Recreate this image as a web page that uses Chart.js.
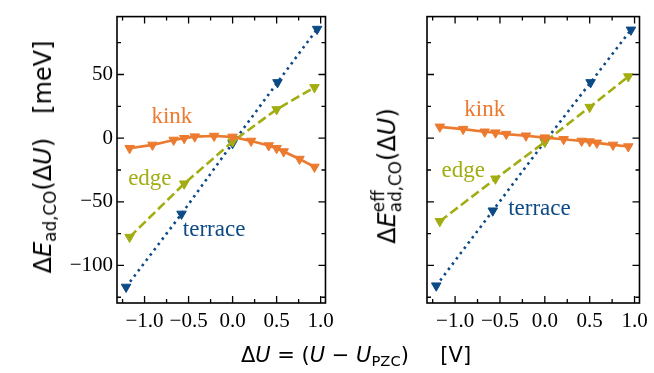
<!DOCTYPE html>
<html><head><meta charset="utf-8">
<script src="https://cdn.jsdelivr.net/npm/chart.js@4/dist/chart.umd.min.js"></script>
<style>
body{margin:0;background:#fff;}
#wrap{position:relative;width:654px;height:373px;overflow:hidden;background:#fff;}
canvas{position:absolute;top:0;}
#c1{left:0;} #c2{left:310px;}
.lab{position:absolute;font-family:"DejaVu Sans";font-size:21px;color:#000;white-space:nowrap;line-height:1;}
.ylab{transform:translate(-50%,-50%) rotate(-90deg);font-size:24px;}
.xlab{transform:translate(-50%,-50%);}
.lab sub{font-size:0.7em;vertical-align:-0.3em;line-height:0;}
.ss{display:inline-block;font-size:0.7em;line-height:1.0;vertical-align:-0.35em;}
.ss span{display:block;}
</style></head>
<body><div id="wrap">
<canvas id="c1" width="340" height="373"></canvas>
<canvas id="c2" width="344" height="373"></canvas>
<div class="lab ylab" style="left:43px;top:157px">Δ<i>E</i><sub>ad,CO</sub>(Δ<i>U</i>)&ensp;&ensp;[meV]</div>
<div class="lab ylab" style="left:387px;top:176px">Δ<i>E</i><span class="ss"><span>eff</span><span>ad,CO</span></span>(Δ<i>U</i>)</div>
<div class="lab xlab" style="left:356px;top:355px">Δ<i>U</i> = (<i>U</i> − <i>U</i><sub>PZC</sub>)&emsp;&ensp;[V]</div>
</div>
<script>
// ---- data ----
const kinkX    = [-1.17, -0.91, -0.67, -0.55, -0.43, -0.21, 0, 0.21, 0.41, 0.50, 0.58, 0.76, 0.93];
const kinkAd   = [-7.9, -5.3, -1.4, -0.1, 1.2, 1.7, 1.0, -2.2, -5.8, -7.9, -10.5, -16.4, -22.6];
const kinkEff  = [8.9, 7.1, 5.0, 4.3, 3.2, 1.9, 0.4, -0.9, -2.2, -2.7, -3.7, -5.3, -6.6];
const edgeX    = [-1.17, -0.55, 0, 0.50, 0.93];
const edgeAd   = [-77.7, -35.8, -2.7, 22.6, 39.9];
const edgeEff  = [-65.3, -31.9, -3.0, 24.4, 48.4];
const terraceX   = [-1.21, -0.58, 0, 0.51, 0.96];
const terraceAd  = [-116.9, -59.5, -4.0, 43.8, 85.7];
const terraceEff = [-115.9, -57.0, -2.7, 43.8, 85.1];
const xMajorTicks = [-1.0, -0.5, 0.0, 0.5, 1.0];
const xMinorTicks = [-1.25, -0.75, -0.25, 0.25, 0.75];
const yMajorTicks = [-100, -50, 0, 50];
const yMinorTicks = [-125, -75, -25, 25, 75];

const C_KINK = '#EC7A2F', C_EDGE = '#A2AD12', C_TER = '#0C4A86';

function pts(xs, ys){ return xs.map((x,i)=>({x:x, y:ys[i]})); }
function fmtX(v){ return (v<0?'\u2212':'') + Math.abs(v).toFixed(1); }
function fmtY(v){ return (v<0?'\u2212':'') + Math.abs(v).toFixed(0); }

const frameTicks = {
  id:'frameTicks',
  afterDatasetsDraw(chart){
    const {ctx, chartArea:a, scales:{x,y}} = chart;
    ctx.save();
    ctx.strokeStyle='#000'; ctx.lineWidth=1.3;
    ctx.beginPath();
    const xt=(v,len)=>{const p=x.getPixelForValue(v); ctx.moveTo(p,a.bottom); ctx.lineTo(p,a.bottom-len); ctx.moveTo(p,a.top); ctx.lineTo(p,a.top+len);};
    const yt=(v,len)=>{const p=y.getPixelForValue(v); ctx.moveTo(a.left,p); ctx.lineTo(a.left+len,p); ctx.moveTo(a.right,p); ctx.lineTo(a.right-len,p);};
    xMajorTicks.forEach(v=>xt(v,7)); xMinorTicks.forEach(v=>xt(v,4));
    yMajorTicks.forEach(v=>yt(v,7)); yMinorTicks.forEach(v=>yt(v,4));
    ctx.stroke();
    ctx.lineWidth=1.6;
    ctx.strokeRect(a.left, a.top, a.right-a.left, a.bottom-a.top);
    ctx.restore();
  }
};
const annot = {
  id:'annot',
  afterDatasetsDraw(chart, args, opts){
    const {ctx, scales:{x,y}} = chart;
    ctx.save();
    ctx.font='23px "Liberation Serif"'; ctx.textAlign='center'; ctx.textBaseline='middle';
    (opts.items||[]).forEach(it=>{ ctx.fillStyle=it.color; ctx.fillText(it.text, x.getPixelForValue(it.x), y.getPixelForValue(it.y)); });
    ctx.restore();
  }
};

function makeChart(id, kinkY, edgeY, terY, showY, padRight, items){
  const ds = (label, xs, ys, color, dash) => ({
    label, data: pts(xs, ys), borderColor: color, backgroundColor: color,
    borderWidth: 2.6, borderDash: dash, tension: 0, fill: false,
    pointStyle: 'triangle', rotation: 180, pointRadius: 5.5, pointHoverRadius: 5.5,
    pointBackgroundColor: color, pointBorderColor: color, pointBorderWidth: 1
  });
  return new Chart(document.getElementById(id), {
    type: 'line',
    data: { datasets: [
      ds('kink', kinkX, kinkY, C_KINK, []),
      ds('edge', edgeX, edgeY, C_EDGE, [9.25, 4]),
      ds('terrace', terraceX, terY, C_TER, [2.5, 4.1])
    ]},
    options: {
      responsive: false, animation: false, devicePixelRatio: 1,
      layout: { padding: { top: 13, right: padRight, left: 0, bottom: 0 } },
      plugins: { legend: {display:false}, tooltip: {enabled:false}, annot: {items} },
      scales: {
        x: { type:'linear', min:-1.313, max:1.055,
             grid:{display:false, drawTicks:false}, border:{display:false},
             afterBuildTicks: s => { s.ticks = xMajorTicks.map(v=>({value:v})); },
             afterFit: s => { s.height = 70; },
             ticks:{ autoSkip:false, maxRotation:0, padding:6, color:'#000',
                     font:{family:'"Liberation Serif"', size:21},
                     callback: v => fmtX(v) } },
        y: { type:'linear', min:-129.5, max:95.5,
             grid:{display:false, drawTicks:false}, border:{display:false},
             afterBuildTicks: s => { s.ticks = yMajorTicks.map(v=>({value:v})); },
             afterFit: s => { s.width = 117; },
             ticks:{ autoSkip:false, padding:4, color:'#000',
                     font:{family:'"Liberation Serif"', size:21},
                     callback: v => showY ? fmtY(v) : '' } }
      }
    },
    plugins: [frameTicks, annot]
  });
}

makeChart('c1', kinkAd, edgeAd, terraceAd, true, 10, [
  {text:'kink', x:-0.69, y:16.7, color:C_KINK},
  {text:'edge', x:-0.94, y:-32, color:C_EDGE},
  {text:'terrace', x:-0.21, y:-72.5, color:C_TER}
]);
makeChart('c2', kinkEff, edgeEff, terraceEff, false, 14, [
  {text:'kink', x:-0.67, y:22, color:C_KINK},
  {text:'edge', x:-0.91, y:-26, color:C_EDGE},
  {text:'terrace', x:-0.06, y:-56, color:C_TER}
]);
</script>
</body></html>
